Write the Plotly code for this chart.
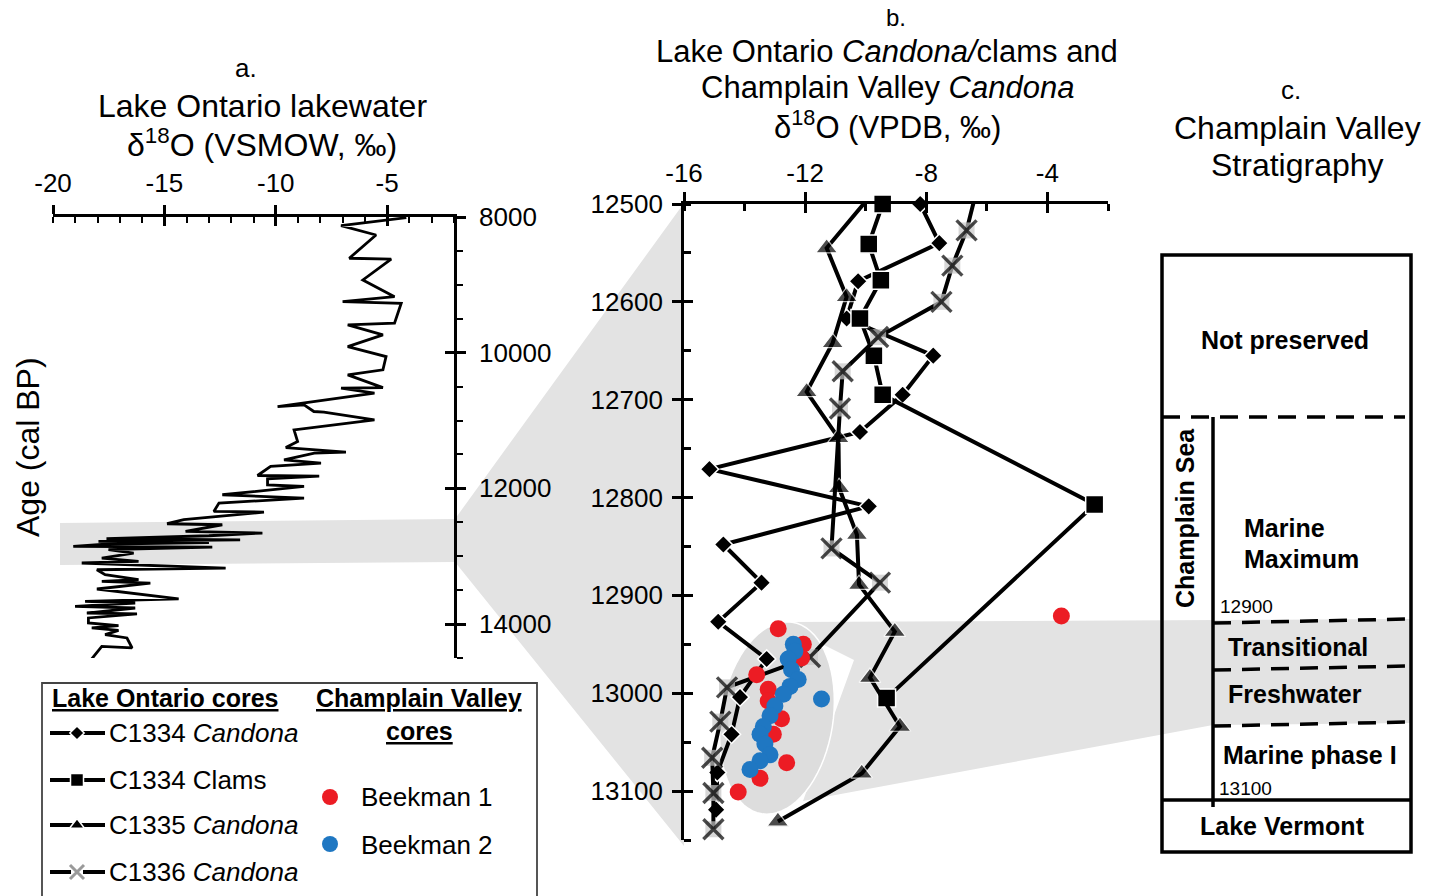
import math
import plotly.graph_objects as go

W, H = 1429, 896
FONT = "Liberation Sans, Arial, sans-serif"

# ---------------- Panel a: Lake Ontario lakewater d18O (VSMOW) ----------------
lake_d18o = [-4.14, -7.07, -5.50, -6.70, -4.82, -6.09, -4.67, -7.00, -4.37, -4.67,
             -6.77, -5.19, -6.77, -5.05, -5.19, -6.77, -5.19, -7.07, -5.57, -9.92,
             -8.73, -8.29, -7.84, -5.57, -9.18, -9.02, -9.55, -6.85, -8.27, -9.63,
             -7.97, -10.23, -10.82, -8.05, -10.37, -10.37, -8.73, -12.40, -8.73, -12.55,
             -12.78, -10.53, -14.13, -14.88, -12.40, -14.05, -10.60, -13.00, -17.60, -11.60,
             -17.96, -13.00, -17.50, -19.09, -12.85, -17.51, -16.38, -17.81, -16.16, -18.71,
             -12.25, -18.03, -17.66, -16.16, -17.81, -15.63, -18.03, -17.21, -14.36, -18.56,
             -16.31, -19.01, -16.31, -18.48, -16.23, -18.41, -18.41, -17.06, -18.26, -17.06,
             -17.66, -16.68, -16.45, -17.81, -18.33]
lake_age = [8010, 8128, 8265, 8608, 8620, 8928, 9174, 9247, 9271, 9566,
            9591, 9738, 9910, 10057, 10253, 10327, 10514, 10523, 10597, 10794,
            10769, 10867, 10876, 10990, 11137, 11309, 11398, 11465, 11480, 11579,
            11627, 11677, 11810, 11820, 11859, 11947, 11972, 12094, 12143, 12217,
            12340, 12349, 12462, 12521, 12536, 12635, 12658, 12698, 12740, 12760,
            12782, 12800, 12820, 12856, 12865, 12904, 12953, 13027, 13076, 13100,
            13174, 13199, 13273, 13346, 13371, 13395, 13483, 13518, 13630, 13666,
            13689, 13739, 13763, 13837, 13850, 13910, 13984, 14024, 14057, 14093,
            14156, 14205, 14352, 14328, 14541]

a_xtick_vals = [-20, -15, -10, -5]
a_xtick_text = ["-20", "-15", "-10", "-5"]
a_ytick_vals = [8000, 10000, 12000, 14000]
a_ytick_text = ["8000", "10000", "12000", "14000"]

# ---------------- Panel b: Lake Ontario Candona/clams & Champlain Valley Candona (VPDB) ----------------
c1334_cand_age = [12500, 12540, 12579, 12617, 12655, 12695, 12733, 12771, 12809,
                  12848, 12887, 12927, 12965, 13004, 13042, 13081, 13119]
c1334_cand_d18o = [-8.20, -7.57, -10.25, -10.63, -7.77, -8.78, -10.19, -15.16, -9.90,
                   -14.70, -13.44, -14.87, -13.27, -14.15, -14.43, -14.90, -14.94]

c1334_clam_age = [12500, 12541, 12578, 12617, 12655, 12695, 12807, 13005]
c1334_clam_d18o = [-9.44, -9.90, -9.50, -10.19, -9.73, -9.44, -2.44, -9.31]

c1335_cand_age = [12490, 12545, 12595, 12642, 12692, 12739, 12790, 12838, 12889,
                  12937, 12984, 13034, 13082, 13131]
c1335_cand_d18o = [-9.80, -11.29, -10.63, -11.09, -11.95, -10.90, -10.88, -10.29, -10.22,
                   -9.04, -9.86, -8.87, -10.13, -12.90]

c1336_cand_age = [12490, 12527, 12563, 12600, 12636, 12671, 12709, 12852, 12887,
                  12963, 12994, 13029, 13066, 13102, 13139]
c1336_cand_d18o = [-6.37, -6.67, -7.14, -7.50, -9.59, -10.76, -10.85, -11.13, -9.53,
                   -11.84, -14.58, -14.80, -15.07, -15.03, -15.03]

beekman1_age = [12921, 12934, 12950, 12964, 12981, 12996, 13008, 13026, 13042, 13071, 13087, 13101]
beekman1_d18o = [-3.54, -12.89, -12.06, -12.12, -13.60, -13.22, -13.22, -12.78, -13.05, -12.61, -13.49, -14.21]

beekman2_age = [12950, 12957, 12965, 12976, 12986, 12993, 13001, 13006, 13013, 13023,
                13034, 13042, 13052, 13063, 13069, 13078]
beekman2_d18o = [-12.39, -12.34, -12.56, -12.45, -12.23, -12.50, -12.72, -11.46, -13.00, -13.16,
                 -13.38, -13.49, -13.33, -13.16, -13.49, -13.82]

b_xtick_vals = [-16, -12, -8, -4]
b_xtick_text = ["-16", "-12", "-8", "-4"]
b_ytick_vals = [12500, 12600, 12700, 12800, 12900, 13000, 13100]
b_ytick_text = [str(v) for v in b_ytick_vals]


def PX(x):
    return x / W


def PY(y):
    return 1 - y / H


fig = go.Figure()

# panel a line
fig.add_trace(go.Scatter(x=lake_d18o, y=lake_age, mode="lines", xaxis="x", yaxis="y",
                         line=dict(color="black", width=2.8), hoverinfo="skip"))


def no_marker_first(n, size, first_hidden):
    s = [size] * n
    if first_hidden:
        s[0] = 0
    return s


# panel b series
fig.add_trace(go.Scatter(x=c1334_cand_d18o, y=c1334_cand_age, mode="lines+markers", xaxis="x2", yaxis="y2",
                         line=dict(color="black", width=4), cliponaxis=False,
                         marker=dict(symbol="diamond", size=14, color="black", line=dict(color="white", width=1.5))))
fig.add_trace(go.Scatter(x=c1334_clam_d18o, y=c1334_clam_age, mode="lines+markers", xaxis="x2", yaxis="y2",
                         line=dict(color="black", width=4), cliponaxis=False,
                         marker=dict(symbol="square", size=18, color="black", line=dict(color="white", width=1.5))))
fig.add_trace(go.Scatter(x=c1335_cand_d18o, y=c1335_cand_age, mode="lines+markers", xaxis="x2", yaxis="y2",
                         line=dict(color="black", width=4), cliponaxis=False,
                         marker=dict(symbol="triangle-up", size=no_marker_first(len(c1335_cand_age), 19, True),
                                     color="black", line=dict(color="white", width=1.2))))
fig.add_trace(go.Scatter(x=c1336_cand_d18o, y=c1336_cand_age, mode="lines", xaxis="x2", yaxis="y2",
                         line=dict(color="black", width=4)))
fig.add_trace(go.Scatter(x=c1336_cand_d18o, y=c1336_cand_age, mode="markers", xaxis="x2", yaxis="y2",
                         cliponaxis=False,
                         marker=dict(symbol="square", size=no_marker_first(len(c1336_cand_age), 16, True),
                                     color="#c6c6c6", line=dict(width=0))))
fig.add_trace(go.Scatter(x=c1336_cand_d18o, y=c1336_cand_age, mode="markers", xaxis="x2", yaxis="y2",
                         cliponaxis=False,
                         marker=dict(symbol="x-thin-open", size=no_marker_first(len(c1336_cand_age), 20, True),
                                     color="black", line=dict(color="black", width=3.4))))
fig.add_trace(go.Scatter(x=beekman1_d18o, y=beekman1_age, mode="markers", xaxis="x2", yaxis="y2",
                         cliponaxis=False, marker=dict(size=17, color="#EC1C24", line=dict(width=0))))
fig.add_trace(go.Scatter(x=beekman2_d18o, y=beekman2_age, mode="markers", xaxis="x2", yaxis="y2",
                         cliponaxis=False, marker=dict(size=17, color="#1F77C2", line=dict(width=0))))

# ---------------- legend samples (pixel-space helper axes) ----------------
leg_rows = [733, 780, 825, 872]
leg_syms = ["diamond", "square", "triangle-up", "x-thin-open"]
leg_sizes = [11, 13, 13, 14]
for yy, sym, sz in zip(leg_rows, leg_syms, leg_sizes):
    fig.add_trace(go.Scatter(x=[50, 105], y=[yy, yy], mode="lines", xaxis="x3", yaxis="y3",
                             line=dict(color="black", width=4)))
    if sym == "x-thin-open":
        fig.add_trace(go.Scatter(x=[77], y=[yy], mode="markers", xaxis="x3", yaxis="y3",
                                 marker=dict(symbol="square", size=12, color="white", line=dict(width=0))))
        fig.add_trace(go.Scatter(x=[77], y=[yy], mode="markers", xaxis="x3", yaxis="y3",
                                 marker=dict(symbol="x-thin-open", size=sz, color="#9a9a9a",
                                             line=dict(color="#9a9a9a", width=3))))
    else:
        fig.add_trace(go.Scatter(x=[77], y=[yy], mode="markers", xaxis="x3", yaxis="y3",
                                 marker=dict(symbol=sym, size=sz, color="black", line=dict(color="white", width=1.5))))
fig.add_trace(go.Scatter(x=[330], y=[797], mode="markers", xaxis="x3", yaxis="y3",
                         marker=dict(size=16, color="#EC1C24")))
fig.add_trace(go.Scatter(x=[330], y=[844], mode="markers", xaxis="x3", yaxis="y3",
                         marker=dict(size=16, color="#1F77C2")))

# dummy traces so the tick-overlay axes get drawn
fig.add_trace(go.Scatter(x=[None], y=[None], xaxis="x4", yaxis="y"))
fig.add_trace(go.Scatter(x=[None], y=[None], xaxis="x", yaxis="y4"))
fig.add_trace(go.Scatter(x=[None], y=[None], xaxis="x5", yaxis="y2"))
fig.add_trace(go.Scatter(x=[None], y=[None], xaxis="x2", yaxis="y5"))

fig.update_traces(showlegend=False, hoverinfo="skip")

# ---------------- axes ----------------
ax_common = dict(showgrid=False, zeroline=False, showline=True, linecolor="black", linewidth=2.8,
                 tickcolor="black", tickwidth=2.5, ticklen=9, ticks="outside", automargin=False)
tickfont = dict(family=FONT, size=26, color="black")
ov_common = dict(ticks="inside", ticklen=9, tickwidth=2.5, tickcolor="black", tickmode="array",
                 showticklabels=False, showline=False, showgrid=False, zeroline=False, automargin=False)

layout = dict(
    width=W, height=H, autosize=False, margin=dict(l=0, r=0, t=0, b=0, pad=0, autoexpand=False),
    paper_bgcolor="white", plot_bgcolor="rgba(0,0,0,0)", showlegend=False,
    font=dict(family=FONT, color="black"),
    xaxis=dict(domain=[PX(53), PX(454)], range=[-20, -2], side="top", anchor="y",
               tickmode="array", tickvals=a_xtick_vals, ticktext=a_xtick_text, tickfont=tickfont,
               ticklabelstandoff=3,
               minor=dict(tickmode="linear", tick0=-20, dtick=1, ticks="inside", ticklen=6,
                          tickwidth=2, tickcolor="black"), **ax_common),
    yaxis=dict(domain=[PY(658), PY(217)], range=[14500, 8000], side="right", anchor="x",
               tickmode="array", tickvals=a_ytick_vals, ticktext=a_ytick_text, tickfont=tickfont,
               ticklabelstandoff=8,
               minor=dict(tickmode="linear", tick0=8000, dtick=500, ticks="outside", ticklen=6,
                          tickwidth=2, tickcolor="black"), **ax_common),
    xaxis2=dict(domain=[PX(684), PX(1108)], range=[-16, -2], side="top", anchor="y2",
                tickmode="array", tickvals=b_xtick_vals, ticktext=b_xtick_text, tickfont=tickfont,
                ticklabelstandoff=0,
                minor=dict(tickmode="linear", tick0=-16, dtick=2, ticks="inside", ticklen=7,
                           tickwidth=2.5, tickcolor="black"), **ax_common),
    yaxis2=dict(domain=[PY(840), PY(204)], range=[13150, 12500], side="left", anchor="x2",
                tickmode="array", tickvals=b_ytick_vals, ticktext=b_ytick_text, tickfont=tickfont,
                ticklabelstandoff=4,
                minor=dict(tickmode="linear", tick0=12500, dtick=50, ticks="inside", ticklen=7,
                           tickwidth=2.5, tickcolor="black"), **ax_common),
    xaxis3=dict(domain=[0, 1], range=[0, W], anchor="y3", visible=False, fixedrange=True, automargin=False),
    yaxis3=dict(domain=[0, 1], range=[H, 0], anchor="x3", visible=False, fixedrange=True, automargin=False),
    xaxis4=dict(overlaying="x", anchor="y", side="top", range=[-20, -2], tickvals=a_xtick_vals, **ov_common),
    yaxis4=dict(overlaying="y", anchor="x", side="right", range=[14500, 8000], tickvals=a_ytick_vals, **ov_common),
    xaxis5=dict(overlaying="x2", anchor="y2", side="top", range=[-16, -2], tickvals=b_xtick_vals, **ov_common),
    yaxis5=dict(overlaying="y2", anchor="x2", side="left", range=[13150, 12500], tickvals=b_ytick_vals, **ov_common),
)
fig.update_layout(**layout)


# ---------------- shapes ----------------
def poly_path(pts):
    return "M " + " L ".join(f"{PX(x):.5f},{PY(y):.5f}" for x, y in pts) + " Z"


shapes = []
GREY = "#e3e3e3"
# band in panel a + wedge to panel b axis
shapes.append(dict(type="path", xref="paper", yref="paper", layer="below", line=dict(width=0),
                   fillcolor=GREY,
                   path=poly_path([(60, 523), (455, 519), (684, 203), (684, 846), (455, 562), (60, 565)])))
# wedge from ellipse to panel c
shapes.append(dict(type="path", xref="paper", yref="paper", layer="below", line=dict(width=0),
                   fillcolor=GREY,
                   path=poly_path([(790, 622), (1410, 619), (1410, 723), (1213, 725), (803, 801),
                                   (854, 660), (818, 642)])))
# ellipse around Champlain Valley data
cx, cy, ra, rb, th = 777, 718, 97, 56, math.radians(9)
ell = []
for i in range(73):
    t = 2 * math.pi * i / 72
    ux, uy = math.sin(th), -math.cos(th)
    vx, vy = math.cos(th), math.sin(th)
    ell.append((cx + ra * math.cos(t) * ux + rb * math.sin(t) * vx,
                cy + ra * math.cos(t) * uy + rb * math.sin(t) * vy))
shapes.append(dict(type="path", xref="paper", yref="paper", layer="below",
                   line=dict(width=1.5, color="white"), fillcolor="#dddddd", path=poly_path(ell)))


def seg(x0, y0, x1, y1, width=3.5, dash=None, color="black"):
    ln = dict(color=color, width=width)
    if dash:
        ln["dash"] = dash
    return dict(type="line", xref="paper", yref="paper", x0=PX(x0), y0=PY(y0), x1=PX(x1), y1=PY(y1),
                line=ln, layer="above")


# panel c stratigraphy column
shapes.append(dict(type="rect", xref="paper", yref="paper", x0=PX(1162), y0=PY(852), x1=PX(1411), y1=PY(255),
                   line=dict(color="black", width=3.5), fillcolor="rgba(0,0,0,0)", layer="above"))
DASH = "18px,11px"
shapes.append(seg(1162, 417, 1405, 417, dash=DASH))
shapes.append(seg(1213, 417, 1213, 807))
shapes.append(seg(1213, 623, 1410, 619, dash=DASH))
shapes.append(seg(1213, 670, 1410, 666, dash=DASH))
shapes.append(seg(1213, 726, 1410, 722, dash=DASH))
shapes.append(seg(1162, 800, 1411, 800))
# legend box
shapes.append(dict(type="rect", xref="paper", yref="paper", x0=PX(42), y0=PY(910), x1=PX(537), y1=PY(683),
                   line=dict(color="#444444", width=1.8), fillcolor="rgba(0,0,0,0)", layer="above"))
fig.update_layout(shapes=shapes)


# ---------------- text ----------------
def ann(text, x, y, size, xanchor="center", angle=0):
    return dict(text=text, x=PX(x), y=PY(y), xref="paper", yref="paper", showarrow=False,
                xanchor=xanchor, yanchor="middle", textangle=angle,
                font=dict(family=FONT, size=size, color="black"))


anns = [
    ann("a.", 246, 68, 26),
    ann("Lake Ontario lakewater", 262, 106, 32),
    ann("δ<sup>18</sup>O (VSMOW, ‰)", 262, 143, 32),
    ann("b.", 896, 17, 24),
    ann("Lake Ontario <i>Candona/</i>clams and", 887, 51, 31),
    ann("Champlain Valley <i>Candona</i>", 887, 88, 31),
    ann("δ<sup>18</sup>O (VPDB, ‰)", 887, 125, 31),
    ann("c.", 1291, 90, 26),
    ann("Champlain Valley", 1297, 128, 32),
    ann("Stratigraphy", 1297, 165, 32),
    ann("Age (cal BP)", 28, 447, 32, angle=-90),
    # panel c
    ann("<b>Not preserved</b>", 1285, 340, 25),
    ann("<b>Champlain Sea</b>", 1185, 518, 25, angle=-90),
    ann("<b>Marine</b>", 1242, 528, 25, xanchor="left"),
    ann("<b>Maximum</b>", 1242, 559, 25, xanchor="left"),
    ann("12900", 1218, 606, 19, xanchor="left"),
    ann("<b>Transitional</b>", 1298, 647, 25),
    ann("<b>Freshwater</b>", 1295, 694, 25),
    ann("<b>Marine phase I</b>", 1310, 755, 25),
    ann("13100", 1217, 788, 19, xanchor="left"),
    ann("<b>Lake Vermont</b>", 1282, 826, 25),
    # legend
    ann("<b><u>Lake Ontario cores</u></b>", 165, 698, 25),
    ann("<b><u>Champlain Valley</u></b>", 419, 698, 25),
    ann("<b><u>cores</u></b>", 419, 731, 25),
    ann("C1334 <i>Candona</i>", 107, 733, 26, xanchor="left"),
    ann("C1334 Clams", 107, 780, 26, xanchor="left"),
    ann("C1335 <i>Candona</i>", 107, 825, 26, xanchor="left"),
    ann("C1336 <i>Candona</i>", 107, 872, 26, xanchor="left"),
    ann("Beekman 1", 359, 797, 26, xanchor="left"),
    ann("Beekman 2", 359, 845, 26, xanchor="left"),
]
fig.update_layout(annotations=anns)

fig.write_html("out.html")
